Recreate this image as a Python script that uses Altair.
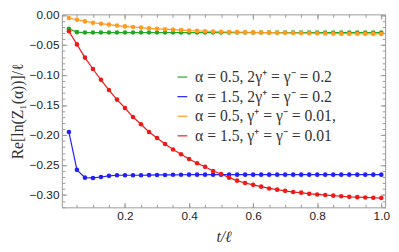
import altair as alt
import pandas as pd

t = [round(0.025 * k, 3) for k in range(1, 41)]

green = [-0.023, -0.0286] + [-0.0293] * 38
blue = [-0.195, -0.258, -0.271, -0.2715, -0.270, -0.268, -0.267, -0.267, -0.267, -0.267,
        -0.2668, -0.2665, -0.2665, -0.2663, -0.2662, -0.266, -0.266, -0.266, -0.266, -0.266,
        -0.266, -0.266, -0.266, -0.266, -0.266, -0.266, -0.266, -0.266, -0.266, -0.266,
        -0.266, -0.266, -0.266, -0.266, -0.266, -0.266, -0.266, -0.266, -0.266, -0.266]
orange = [-0.005, -0.008, -0.0107, -0.0129, -0.0145, -0.016, -0.0176, -0.019, -0.020, -0.021,
          -0.0222, -0.023, -0.0237, -0.0244, -0.0252, -0.026, -0.0265, -0.027, -0.0275, -0.028,
          -0.0283, -0.0286, -0.0288, -0.029, -0.0292, -0.0294, -0.0296, -0.0298, -0.030, -0.0302,
          -0.0304, -0.0306, -0.0308, -0.031, -0.0311, -0.0312, -0.0313, -0.0314, -0.0315, -0.0316]
red = [-0.027, -0.049, -0.071, -0.090, -0.108, -0.125, -0.141, -0.155, -0.170, -0.182,
       -0.195, -0.205, -0.215, -0.224, -0.232, -0.240, -0.247, -0.253, -0.260, -0.265,
       -0.271, -0.276, -0.280, -0.283, -0.286, -0.289, -0.291, -0.293, -0.295, -0.296,
       -0.298, -0.299, -0.300, -0.301, -0.302, -0.303, -0.3035, -0.304, -0.3045, -0.305]

labels = ["α = 0.5, 2γ⁺ = γ⁻ = 0.2",
          "α = 1.5, 2γ⁺ = γ⁻ = 0.2",
          "α = 0.5, γ⁺ = γ⁻ = 0.01,",
          "α = 1.5, γ⁺ = γ⁻ = 0.01"]
colors = ["#22a822", "#2020ff", "#ff9a22", "#ee1a1a"]
series = [green, blue, orange, red]

x_major = [0.2, 0.4, 0.6, 0.8, 1.0]
x_minor = [round(0.05 * k, 2) for k in range(1, 21)]
y_major = [0.0, -0.05, -0.10, -0.15, -0.20, -0.25, -0.30]
y_minor = [round(-0.01 * k, 2) for k in range(0, 33)]

rows = []
for lab, vals in zip(labels, series):
    for tt, v in zip(t, vals):
        rows.append({"t": tt, "v": v, "s": lab})
df = pd.DataFrame(rows)

xs = alt.Scale(domain=[0.003, 1.012], nice=False, zero=False)
ys = alt.Scale(domain=[-0.3205, 0.001], nice=False, zero=False)
cs = alt.Scale(domain=labels, range=colors)

TICK = "#999999"
base = alt.Chart(df)

lines = base.mark_line(strokeWidth=1.2).encode(
    x=alt.X("t:Q", scale=xs, axis=alt.Axis(
        orient="bottom", values=x_major, format=".1f", offset=-5, tickSize=5,
        domain=False, grid=False, tickColor=TICK, labelPadding=3,
        labelFont="Liberation Sans", labelFontSize=12, labelColor="#222",
        title="t/ℓ", titleFont="Liberation Serif", titleFontStyle="italic",
        titleFontWeight="normal", titleFontSize=16, titleColor="#333", titlePadding=8)),
    y=alt.Y("v:Q", scale=ys, axis=alt.Axis(
        orient="left", values=y_major, format=".2f", offset=-5, tickSize=5,
        domain=False, grid=False, tickColor=TICK, labelPadding=3,
        labelFont="Liberation Sans", labelFontSize=12, labelColor="#222",
        title="Re[ln(Z₁(α))]/ℓ", titleFont="Liberation Serif",
        titleFontWeight="normal", titleFontSize=16, titleColor="#333", titlePadding=4)),
    color=alt.Color("s:N", scale=cs, sort=labels, legend=alt.Legend(
        orient="none", legendX=115, legendY=56, title=None, symbolType="stroke",
        symbolSize=100, symbolStrokeWidth=1.2, labelFont="Liberation Serif",
        labelFontSize=16, labelColor="#333", rowPadding=4, padding=0, labelOffset=5)),
    order="t:Q",
)

points = base.mark_point(filled=True, size=22, opacity=1).encode(
    x=alt.X("t:Q", scale=xs, axis=None),
    y=alt.Y("v:Q", scale=ys, axis=None),
    color=alt.Color("s:N", scale=cs, sort=labels, legend=None),
)

def ghost(xo, yo, xv, yv, size, off):
    return base.mark_point(opacity=0).encode(
        x=alt.X("t:Q", scale=xs, axis=alt.Axis(
            orient=xo, values=xv, labels=False, title=None, offset=off, tickSize=size,
            domain=False, grid=False, tickColor=TICK)),
        y=alt.Y("v:Q", scale=ys, axis=alt.Axis(
            orient=yo, values=yv, labels=False, title=None, offset=off, tickSize=size,
            domain=False, grid=False, tickColor=TICK)),
    )

chart = alt.layer(
    lines, points,
    ghost("top", "right", x_major, y_major, 5, -5),
    ghost("bottom", "left", x_minor, y_minor, 3, -3),
    ghost("top", "right", x_minor, y_minor, 3, -3),
).resolve_axis(x="independent", y="independent").properties(
    width=330, height=197,
    autosize=alt.AutoSizeParams(type="none"),
    padding={"left": 55, "top": 4, "right": 6, "bottom": 40},
).configure_view(stroke=TICK, strokeWidth=1)

chart.save("out.html", embed_options={"renderer": "svg", "actions": False})
